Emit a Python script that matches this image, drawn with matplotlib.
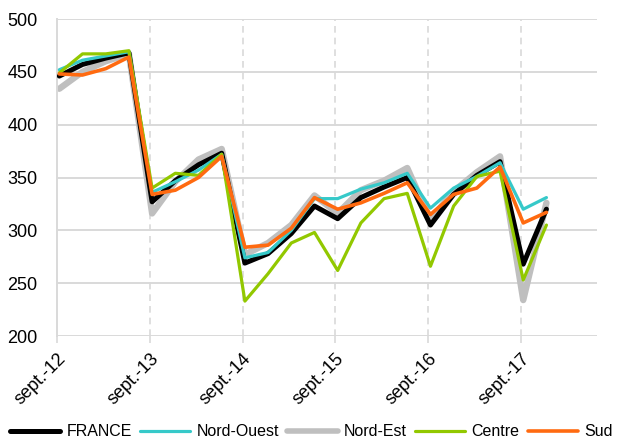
import matplotlib
matplotlib.use("Agg")
import matplotlib.pyplot as plt
import numpy as np

plt.rcParams['font.family'] = ['Liberation Sans', 'DejaVu Sans']

tick_labels = ["sept.-12", "sept.-13", "sept.-14", "sept.-15", "sept.-16", "sept.-17"]
series_names = ["FRANCE", "Nord-Ouest", "Nord-Est", "Centre", "Sud"]

france = [446, 457, 463, 468, 327, 347, 362, 373, 269, 278, 297, 323, 311, 331, 341, 350, 305, 334, 352, 365, 268, 320]
nord_ouest = [452, 461, 465, 469, 336, 346, 357, 372, 274, 279, 300, 330, 330, 339, 345, 354, 321, 340, 351, 364, 320, 331]
nord_est = [434, 450, 460, 467, 316, 346, 367, 377, 277, 288, 305, 333, 316, 338, 347, 359, 310, 337, 355, 370, 234, 326]
centre = [449, 467, 467, 470, 340, 354, 352, 372, 233, 259, 288, 298, 262, 307, 330, 335, 266, 323, 351, 356, 253, 305]
sud = [448, 447, 453, 464, 334, 338, 350, 370, 284, 286, 302, 331, 320, 326, 335, 345, 315, 334, 340, 360, 307, 317]

colors = {"FRANCE": "#000000", "Nord-Ouest": "#36C9C9", "Nord-Est": "#BFBFBF",
          "Centre": "#92C800", "Sud": "#FF6A10"}
widths = {"FRANCE": 3.6, "Nord-Ouest": 2.3, "Nord-Est": 4.6, "Centre": 2.3, "Sud": 2.6}
zorders = {"Nord-Est": 2, "FRANCE": 3, "Nord-Ouest": 4, "Centre": 5, "Sud": 6}
data = {"FRANCE": france, "Nord-Ouest": nord_ouest, "Nord-Est": nord_est,
        "Centre": centre, "Sud": sud}

fig = plt.figure(figsize=(6.23, 4.45), dpi=100)
ax = fig.add_axes([57/623, 1-336/445, (597-57)/623, (336-19)/445])

x = np.arange(len(france)) + 0.1
handles = []
for name in series_names:
    h, = ax.plot(x, data[name], color=colors[name], lw=widths[name],
                 zorder=zorders[name], solid_joinstyle='round',
                 solid_capstyle='round', label=name)
    handles.append(h)

ax.set_ylim(200, 500)
ax.set_xlim(0, 23.28)
ax.set_yticks([200, 250, 300, 350, 400, 450, 500])
ax.set_xticks(np.arange(0, 24, 4))
ax.set_xticklabels(tick_labels, rotation=45, ha='right', rotation_mode='anchor')

grid_c = "#D9D9D9"
for yv in [200, 250, 300, 350, 400, 450, 500]:
    ax.axhline(yv, color=grid_c, lw=1.4, zorder=0)
for xv in np.arange(4, 24, 4):
    ax.axvline(xv, color=grid_c, lw=1.2, ls=(0, (4, 3)), zorder=0)

for s in ['top', 'right', 'bottom']:
    ax.spines[s].set_visible(False)
ax.spines['left'].set_color(grid_c)
ax.spines['left'].set_linewidth(1.4)

ax.tick_params(axis='y', length=0, labelsize=13, pad=14)
ax.tick_params(axis='x', length=5, color=grid_c, width=1.2, labelsize=13, pad=5)

leg = fig.legend(handles=handles, loc='center', bbox_to_anchor=(0.5, 1-432/445),
                 ncol=5, frameon=False, fontsize=11.5, handlelength=3.15,
                 handletextpad=0.4, columnspacing=0.5, borderaxespad=0)
for lh, name in zip(leg.get_lines(), series_names):
    lh.set_linewidth(widths[name] if name != "Nord-Est" else 4.0)
    lh.set_solid_capstyle('round')

fig.savefig("out.png", dpi=100)
